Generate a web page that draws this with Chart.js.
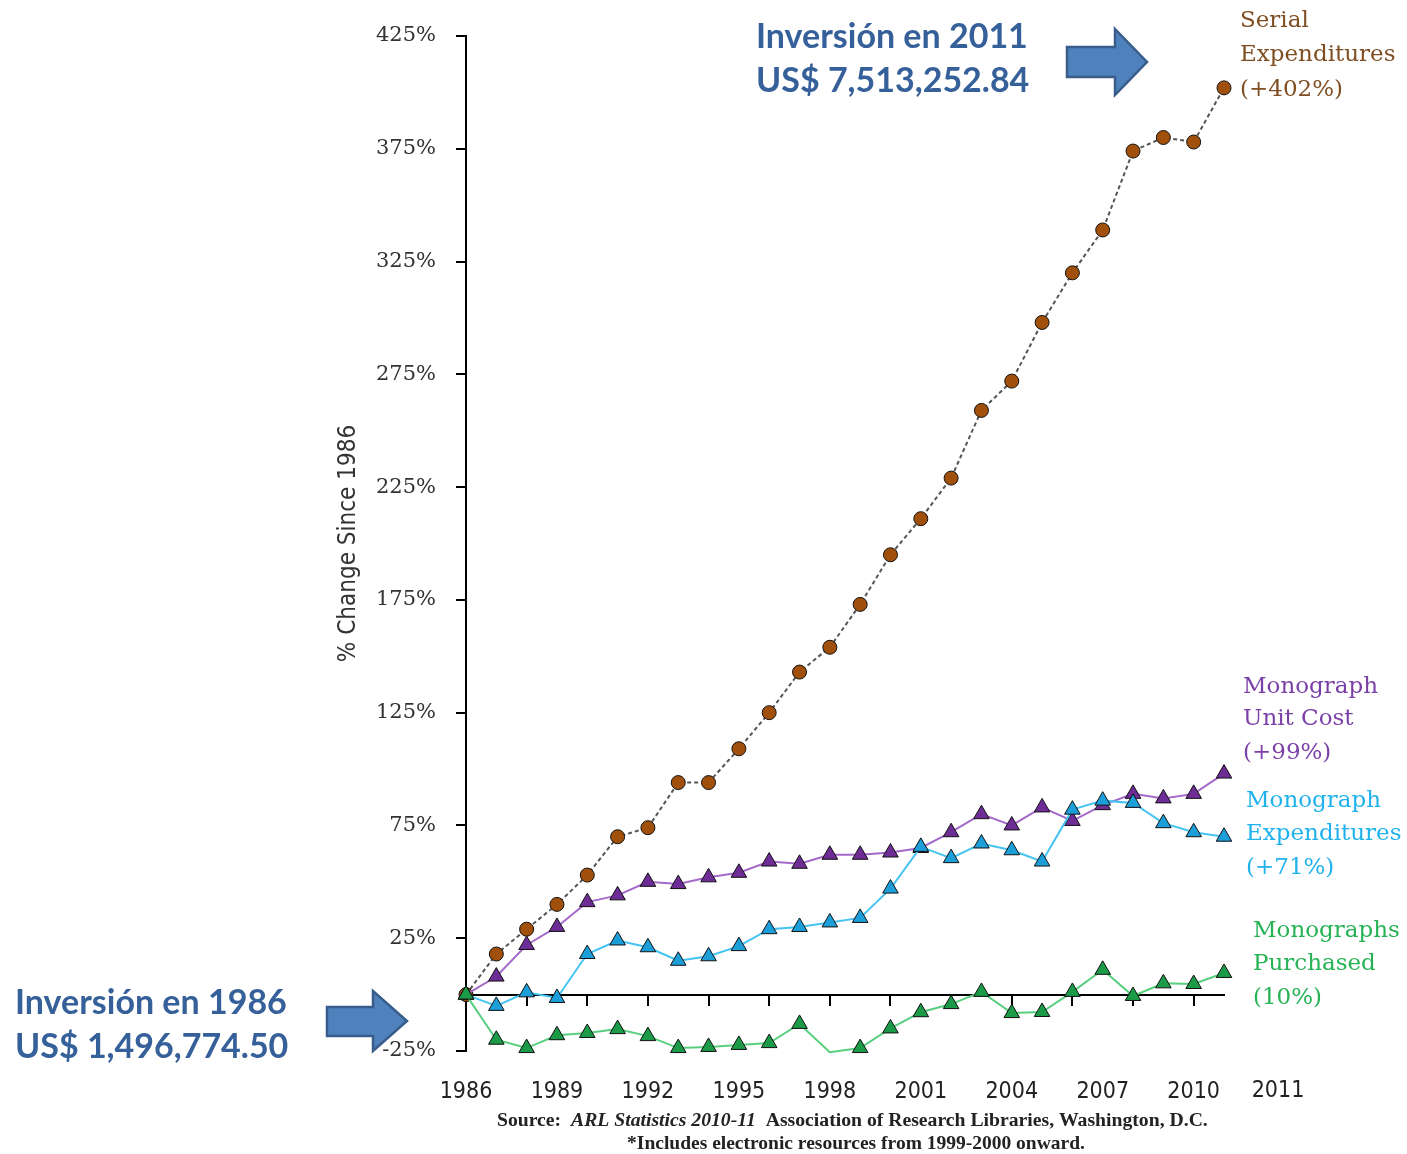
<!DOCTYPE html>
<html>
<head>
<meta charset="utf-8">
<script src="https://cdn.jsdelivr.net/npm/chart.js@4.4.1/dist/chart.umd.min.js"></script>
<style>
  html, body { margin: 0; padding: 0; background: #fff; }
  #wrap { width: 1407px; height: 1154px; }
</style>
</head>
<body>
<div id="wrap"><canvas id="chart" width="1407" height="1154"></canvas></div>
<script>
// data (% change since 1986)
const years = [1986, 1987, 1988, 1989, 1990, 1991, 1992, 1993, 1994, 1995, 1996, 1997, 1998,
               1999, 2000, 2001, 2002, 2003, 2004, 2005, 2006, 2007, 2008, 2009, 2010, 2011];
const serialExp = [0, 18, 29, 40, 53, 70, 74, 94, 94, 109, 125, 143, 154,
                   173, 195, 211, 229, 259, 272, 298, 320, 339, 374, 380, 378, 402];
const unitCost = [0, 8, 22, 30, 41, 44, 50, 49, 52, 54, 59, 58, 62,
                  62, 63, 65, 72, 80, 75, 83, 77, 84, 89, 87, 89, 98];
const monoExp = [0, -5, 1, -1.5, 18, 24, 21, 15, 17, 21.5, 29, 30, 32,
                 34, 47, 65.5, 60.5, 67, 64, 59, 82, 86, 85, 76, 72, 70];
const monoBought = [0, -20, -23.7, -18, -17, -15.3, -18.4, -23.7, -23.2, -22.3, -21.5, -13, -25.5,
                    -23.7, -15, -7.8, -4.2, 1.2, -8.2, -7.7, 1.2, 11, -0.6, 5, 4.7, 9.6];

const yTicks = [-25, 25, 75, 125, 175, 225, 275, 325, 375, 425];
const yearLabels = [1986, 1989, 1992, 1995, 1998, 2001, 2004, 2007, 2010];
const zeroTicks = [1986, 1988, 1990, 1992, 1994, 1996, 1998, 2000, 2002, 2004, 2006, 2008, 2010];

const pts = vals => years.map((y, i) => ({ x: y, y: vals[i] }));

// the 1998 purchase point falls below the axis and shows no marker
const boughtRadius = monoBought.map(v => v < -25 ? 0 : 9);

const blue = '#36609a';

function blockArrow(ctx, x0, shaftTop, shaftBot, xb, headTop, headBot, tip) {
  const yc = (headTop + headBot) / 2;
  ctx.beginPath();
  ctx.moveTo(x0, shaftTop);
  ctx.lineTo(xb, shaftTop);
  ctx.lineTo(xb, headTop);
  ctx.lineTo(tip, yc);
  ctx.lineTo(xb, headBot);
  ctx.lineTo(xb, shaftBot);
  ctx.lineTo(x0, shaftBot);
  ctx.closePath();
  ctx.fillStyle = '#4f81bd';
  ctx.fill();
  ctx.lineWidth = 2.5;
  ctx.strokeStyle = '#385d8a';
  ctx.stroke();
}

function lines(ctx, x, ys, texts) {
  texts.forEach((t, i) => ctx.fillText(t, x, ys[i]));
}

const notes = {
  id: 'notes',
  afterDraw(chart) {
    const ctx = chart.ctx;
    ctx.save();
    ctx.textBaseline = 'middle';
    ctx.textAlign = 'left';

    // series names at the right
    ctx.font = '23px "DejaVu Serif"';
    ctx.fillStyle = '#7f4e22';
    lines(ctx, 1240, [21, 55, 90], ['Serial', 'Expenditures', '(+402%)']);
    ctx.fillStyle = '#7b3fa8';
    lines(ctx, 1243, [687, 719, 753], ['Monograph', 'Unit Cost', '(+99%)']);
    ctx.fillStyle = '#1fb2ec';
    lines(ctx, 1246, [801, 834, 868], ['Monograph', 'Expenditures', '(+71%)']);
    ctx.fillStyle = '#27b355';
    lines(ctx, 1253, [931, 964, 998], ['Monographs', 'Purchased', '(10%)']);

    // stray 2011 label
    ctx.font = '23px "DejaVu Sans Condensed"';
    ctx.fillStyle = '#222';
    ctx.textAlign = 'center';
    ctx.fillText('2011', 1278, 1091);

    // source lines
    ctx.textAlign = 'left';
    ctx.textBaseline = 'alphabetic';
    let x = 497;
    const segs = [['bold', 'Source:  '], ['italic bold', 'ARL Statistics 2010-11  '],
                  ['bold', 'Association of Research Libraries, Washington, D.C.']];
    segs.forEach(s => {
      ctx.font = s[0] + ' 19.7px "Liberation Serif"';
      ctx.fillText(s[1], x, 1126);
      x += ctx.measureText(s[1]).width;
    });
    ctx.font = 'bold 19.5px "Liberation Serif"';
    ctx.textAlign = 'center';
    ctx.fillText('*Includes electronic resources from 1999-2000 onward.', 856, 1149);

    // investment callouts
    ctx.textAlign = 'left';
    ctx.textBaseline = 'middle';
    ctx.font = 'bold 34px Lato';
    ctx.fillStyle = blue;
    lines(ctx, 756, [37, 81], ['Inversión en 2011', 'US$ 7,513,252.84']);
    lines(ctx, 15, [1003, 1047], ['Inversión en 1986', 'US$ 1,496,774.50']);

    blockArrow(ctx, 1067, 47, 77, 1115, 29, 95, 1147);
    blockArrow(ctx, 327, 1007, 1036, 373, 991, 1051, 407);
    ctx.restore();
  }
};

new Chart(document.getElementById('chart'), {
  type: 'line',
  data: {
    datasets: [
      {
        label: 'Monographs Purchased',
        data: pts(monoBought),
        order: 0,
        borderColor: '#58cf7e',
        borderWidth: 2,
        pointStyle: 'triangle',
        pointRadius: boughtRadius,
        pointBackgroundColor: '#1b9a48',
        pointBorderColor: '#111',
        pointBorderWidth: 1,
        clip: false
      },
      {
        label: 'Monograph Expenditures',
        data: pts(monoExp),
        order: 1,
        borderColor: '#45c3f2',
        borderWidth: 2,
        pointStyle: 'triangle',
        pointRadius: 9,
        pointBackgroundColor: '#1c9ed9',
        pointBorderColor: '#111',
        pointBorderWidth: 1,
        clip: false
      },
      {
        label: 'Monograph Unit Cost',
        data: pts(unitCost),
        order: 2,
        borderColor: '#a569c9',
        borderWidth: 2,
        pointStyle: 'triangle',
        pointRadius: 9,
        pointBackgroundColor: '#6e2c96',
        pointBorderColor: '#111',
        pointBorderWidth: 1,
        clip: false
      },
      {
        label: 'Serial Expenditures',
        data: pts(serialExp),
        order: 3,
        borderColor: '#555',
        borderWidth: 2,
        borderDash: [4, 3],
        pointStyle: 'circle',
        pointRadius: 7,
        pointBackgroundColor: '#a0500a',
        pointBorderColor: '#111',
        pointBorderWidth: 1,
        clip: false
      }
    ]
  },
  options: {
    responsive: false,
    animation: false,
    events: [],
    layout: { padding: { left: 334, right: 183, top: 36, bottom: 43 } },
    plugins: { legend: { display: false }, tooltip: { enabled: false } },
    scales: {
      x: {
        type: 'linear',
        min: 1986,
        max: 2011,
        position: { y: 0 },
        afterBuildTicks: s => { s.ticks = zeroTicks.map(v => ({ value: v })); },
        ticks: { display: false },
        grid: { drawOnChartArea: false, color: '#000', lineWidth: 2, tickLength: 10 },
        border: { color: '#000', width: 2 }
      },
      x2: {
        type: 'linear',
        min: 1986,
        max: 2011,
        position: 'bottom',
        afterBuildTicks: s => { s.ticks = yearLabels.map(v => ({ value: v })); },
        afterFit: s => { s.height = 60; },
        ticks: {
          callback: v => String(v),
          maxRotation: 0,
          autoSkip: false,
          padding: 27,
          color: '#222',
          font: { family: '"DejaVu Sans Condensed"', size: 23 }
        },
        grid: { display: false, drawTicks: false },
        border: { display: false }
      },
      y: {
        min: -25,
        max: 425,
        afterBuildTicks: s => { s.ticks = yTicks.map(v => ({ value: v })); },
        afterFit: s => { s.width = 132; },
        ticks: {
          callback: v => v + '%',
          padding: 20,
          color: '#333',
          font: { family: '"DejaVu Serif"', size: 21 }
        },
        grid: { drawOnChartArea: false, color: '#000', lineWidth: 2, tickLength: 10 },
        border: { color: '#000', width: 2 },
        title: {
          display: true,
          text: '% Change Since 1986',
          color: '#333',
          padding: { top: 0, bottom: 0 },
          font: { family: '"DejaVu Sans Condensed"', size: 24 }
        }
      }
    }
  },
  plugins: [notes]
});
</script>
</body>
</html>
